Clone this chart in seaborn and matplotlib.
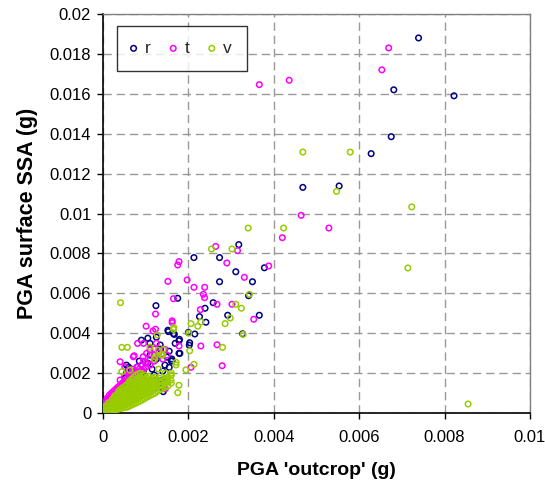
import matplotlib
matplotlib.use("Agg")
import matplotlib.pyplot as plt
import pandas as pd
import seaborn as sns

# ---------------- data ----------------
series_names = ["r", "t", "v"]
series_colors = ["#000080", "#FF00FF", "#99CC00"]

r_points = [
    (0.00739, 0.0188), (0.00681, 0.0162), (0.00822, 0.0159), (0.00675, 0.01385),
    (0.00628, 0.0130), (0.00468, 0.01131), (0.00553, 0.01138),
    (0.00318, 0.00844), (0.00213, 0.00779), (0.00273, 0.00779), (0.00378, 0.00728),
    (0.00311, 0.00708), (0.00273, 0.00658), (0.00350, 0.00658), (0.00341, 0.00588),
    (0.00175, 0.00575), (0.00258, 0.00553), (0.00124, 0.00538), (0.00239, 0.00525),
    (0.00366, 0.00490), (0.00292, 0.00490), (0.00226, 0.00483), (0.00241, 0.00455),
    (0.00152, 0.00415), (0.00165, 0.00398), (0.00200, 0.00404), (0.00215, 0.00396),
    (0.00327, 0.00397), (0.00178, 0.00362), (0.00169, 0.00349), (0.00203, 0.00352),
    (0.00178, 0.00299), (0.00110, 0.00349), (0.00134, 0.00341), (0.00162, 0.00262),
    (0.00155, 0.00229), (0.00144, 0.00122), (0.00137, 0.00159), (0.00085, 0.00082),
    (0.00153, 0.00408), (0.00167, 0.00394), (0.00179, 0.00369), (0.00202, 0.00340),
    (0.00135, 0.00320), (0.00161, 0.00271), (0.00180, 0.00299), (0.00118, 0.00157),
    (0.00141, 0.00165), (0.00141, 0.00107), (0.00090, 0.00365), (0.00105, 0.00375),
    (0.00125, 0.00380),
]
r_cluster = [
    (0.00005, 0.0001), (0.0001, 0.00022), (0.00015, 0.0003), (0.0002, 0.0004),
    (0.0003, 0.0006), (0.0004, 0.0008), (0.00052, 0.00175), (0.00055, 0.0020),
    (0.00055, 0.0024), (0.0006, 0.0023), (0.00075, 0.0020), (0.0008, 0.0023),
    (0.00085, 0.0026), (0.0009, 0.0018), (0.00094, 0.00207), (0.001, 0.0016),
    (0.00105, 0.0025), (0.0011, 0.0029), (0.00115, 0.0022), (0.0012, 0.0019),
    (0.00125, 0.0027), (0.0013, 0.0013), (0.00135, 0.0016), (0.0014, 0.0021),
    (0.00145, 0.0024), (0.0015, 0.0028), (0.00155, 0.0031), (0.0016, 0.0026),
    (0.00085, 0.0008), (0.0006, 0.0012),
]

t_points = [
    (0.00669, 0.0183), (0.00653, 0.0172), (0.00366, 0.01646), (0.00436, 0.01668),
    (0.00464, 0.00991), (0.00529, 0.00927), (0.00420, 0.00879), (0.00264, 0.00835),
    (0.00315, 0.00814), (0.00290, 0.00752), (0.00178, 0.00759), (0.00175, 0.00742),
    (0.00388, 0.00737), (0.00331, 0.00680), (0.00197, 0.00667), (0.00152, 0.00660),
    (0.00213, 0.00630), (0.00238, 0.00630), (0.00235, 0.00595), (0.00238, 0.00578),
    (0.00165, 0.00573), (0.00267, 0.00545), (0.00302, 0.00545), (0.00228, 0.00518),
    (0.00123, 0.00496), (0.00353, 0.00470), (0.00101, 0.00435), (0.00123, 0.00420),
    (0.00117, 0.00411), (0.00162, 0.00453), (0.00162, 0.00462), (0.00178, 0.00336),
    (0.00229, 0.00336), (0.00267, 0.00342), (0.00279, 0.00237), (0.00206, 0.00229),
    (0.00081, 0.00349), (0.00095, 0.00349), (0.00073, 0.00287), (0.00146, 0.00122),
    (0.00040, 0.00257), (0.00051, 0.00232), (0.00145, 0.00319), (0.00110, 0.00316),
    (0.00102, 0.00299), (0.00094, 0.00282), (0.00071, 0.00282), (0.00120, 0.00320),
    (0.00130, 0.00300), (0.00140, 0.00270), (0.00150, 0.00290), (0.00125, 0.00350),
]
t_cluster = [
    (0.00002, 0.00035), (0.00002, 0.00045), (0.00006, 0.0004), (0.00006, 0.00055),
    (0.0001, 0.0005), (0.0001, 0.00065), (0.0001, 0.00075),
    (0.00015, 0.0006), (0.00015, 0.00075), (0.00015, 0.0009),
    (0.0002, 0.0007), (0.0002, 0.00085), (0.0002, 0.001),
    (0.00025, 0.0008), (0.00025, 0.00095), (0.00025, 0.0011),
    (0.0003, 0.0009), (0.0003, 0.00105), (0.0003, 0.0012),
    (0.00035, 0.001), (0.00035, 0.00115), (0.00035, 0.0013),
    (0.0004, 0.00112), (0.0004, 0.00127), (0.0004, 0.0014), (0.0004, 0.00165),
    (0.00045, 0.00122), (0.00045, 0.00137), (0.00045, 0.0015),
    (0.0005, 0.0013), (0.0005, 0.00147), (0.0005, 0.0016), (0.0005, 0.0018),
    (0.00055, 0.0014), (0.00055, 0.00157), (0.00055, 0.0017),
    (0.0006, 0.0015), (0.0006, 0.00167), (0.0006, 0.0019), (0.0006, 0.0021),
    (0.00065, 0.0016), (0.00065, 0.00177), (0.00065, 0.0019),
    (0.0007, 0.0017), (0.0007, 0.00187), (0.0007, 0.002), (0.0007, 0.0022),
    (0.00075, 0.0018), (0.00075, 0.00197), (0.00075, 0.0021),
    (0.0008, 0.0019), (0.0008, 0.00205), (0.0008, 0.0023),
    (0.00085, 0.0020), (0.00085, 0.0022), (0.0009, 0.0021), (0.0009, 0.0024),
    (0.00095, 0.0022), (0.00095, 0.0026), (0.001, 0.0023), (0.001, 0.0025),
    (0.0011, 0.0024), (0.0011, 0.0027), (0.0012, 0.0026), (0.0012, 0.0029),
]

v_points = [
    (0.00468, 0.01308), (0.00579, 0.01308), (0.00547, 0.01111), (0.00723, 0.01033),
    (0.00714, 0.00727), (0.00855, 0.00045), (0.00340, 0.00927), (0.00423, 0.00927),
    (0.00254, 0.00822), (0.00302, 0.00822), (0.00343, 0.00595), (0.00041, 0.00553),
    (0.00311, 0.00545), (0.00324, 0.00525), (0.00298, 0.00476), (0.00229, 0.00456),
    (0.00286, 0.00448), (0.00222, 0.00435), (0.00206, 0.00448), (0.00166, 0.00428),
    (0.00127, 0.00391), (0.00201, 0.00400), (0.00328, 0.00394), (0.00280, 0.00329),
    (0.00203, 0.00312), (0.00213, 0.00244), (0.00194, 0.00216), (0.00044, 0.00329),
    (0.00057, 0.00329), (0.00159, 0.00165), (0.00178, 0.00139), (0.00175, 0.00102),
    (0.00171, 0.00254), (0.00171, 0.00241), (0.00044, 0.00207), (0.00063, 0.00215),
    (0.00165, 0.00419), (0.00129, 0.00315), (0.00141, 0.00319), (0.00137, 0.00291),
    (0.00122, 0.00282), (0.00150, 0.00170), (0.00160, 0.00190), (0.00145, 0.00200),
    (0.00130, 0.00220), (0.00120, 0.00270), (0.00140, 0.00290), (0.00110, 0.00330),
]
v_cluster = [
    (0.00002, 0.00003), (0.00002, 0.00015), (0.00002, 0.0003),
    (0.00007, 0.00005), (0.00007, 0.0002), (0.00007, 0.00035),
    (0.00012, 0.00008), (0.00012, 0.00022), (0.00012, 0.00036), (0.00012, 0.0005),
    (0.00017, 0.0001), (0.00017, 0.00025), (0.00017, 0.0004), (0.00017, 0.00055),
    (0.00022, 0.00012), (0.00022, 0.00027), (0.00022, 0.00042), (0.00022, 0.00057), (0.00022, 0.0007),
    (0.00027, 0.00015), (0.00027, 0.0003), (0.00027, 0.00045), (0.00027, 0.0006), (0.00027, 0.00075), (0.00027, 0.00085),
    (0.00032, 0.00018), (0.00032, 0.00033), (0.00032, 0.00048), (0.00032, 0.00063), (0.00032, 0.00078), (0.00032, 0.00093),
    (0.00037, 0.0002), (0.00037, 0.00036), (0.00037, 0.00052), (0.00037, 0.00068), (0.00037, 0.00084), (0.00037, 0.001), (0.00037, 0.0011),
    (0.00042, 0.00023), (0.00042, 0.0004), (0.00042, 0.00056), (0.00042, 0.00072), (0.00042, 0.00088), (0.00042, 0.00105), (0.00042, 0.0012),
    (0.00047, 0.00026), (0.00047, 0.00042), (0.00047, 0.0006), (0.00047, 0.00077), (0.00047, 0.00094), (0.00047, 0.0011), (0.00047, 0.00128),
    (0.00052, 0.00028), (0.00052, 0.00045), (0.00052, 0.00063), (0.00052, 0.00081), (0.00052, 0.001), (0.00052, 0.00118), (0.00052, 0.00135),
    (0.00057, 0.0003), (0.00057, 0.00048), (0.00057, 0.00067), (0.00057, 0.00086), (0.00057, 0.00105), (0.00057, 0.00124), (0.00057, 0.00145),
    (0.00062, 0.00035), (0.00062, 0.00053), (0.00062, 0.00072), (0.00062, 0.00091), (0.00062, 0.0011), (0.00062, 0.0013), (0.00062, 0.0015), (0.00062, 0.0016),
    (0.00067, 0.0004), (0.00067, 0.00058), (0.00067, 0.00077), (0.00067, 0.00096), (0.00067, 0.00116), (0.00067, 0.00136), (0.00067, 0.00155), (0.00067, 0.0017),
    (0.00072, 0.00045), (0.00072, 0.00063), (0.00072, 0.00082), (0.00072, 0.00102), (0.00072, 0.00122), (0.00072, 0.00142), (0.00072, 0.0016), (0.00072, 0.0018),
    (0.00077, 0.0005), (0.00077, 0.00068), (0.00077, 0.00087), (0.00077, 0.00107), (0.00077, 0.00127), (0.00077, 0.00147), (0.00077, 0.00167), (0.00077, 0.0019),
    (0.00082, 0.00055), (0.00082, 0.00073), (0.00082, 0.00093), (0.00082, 0.00113), (0.00082, 0.00133), (0.00082, 0.00153), (0.00082, 0.00175), (0.00082, 0.00195),
    (0.00087, 0.0006), (0.00087, 0.0008), (0.00087, 0.001), (0.00087, 0.0012), (0.00087, 0.0014), (0.00087, 0.0016), (0.00087, 0.0018), (0.00087, 0.002),
    (0.00092, 0.00066), (0.00092, 0.00086), (0.00092, 0.00106), (0.00092, 0.00126), (0.00092, 0.00146), (0.00092, 0.00166), (0.00092, 0.00186),
    (0.00097, 0.00072), (0.00097, 0.00092), (0.00097, 0.00112), (0.00097, 0.00132), (0.00097, 0.00152), (0.00097, 0.00172), (0.00097, 0.0019),
    (0.00102, 0.00078), (0.00102, 0.00098), (0.00102, 0.00118), (0.00102, 0.00138), (0.00102, 0.00158), (0.00102, 0.00178),
    (0.00107, 0.00084), (0.00107, 0.00104), (0.00107, 0.00124), (0.00107, 0.00144), (0.00107, 0.00164), (0.00107, 0.00184),
    (0.00112, 0.0009), (0.00112, 0.0011), (0.00112, 0.0013), (0.00112, 0.0015), (0.00112, 0.0017),
    (0.00117, 0.00095), (0.00117, 0.00115), (0.00117, 0.00135), (0.00117, 0.00155), (0.00117, 0.00175),
    (0.00122, 0.001), (0.00122, 0.0012), (0.00122, 0.0014), (0.00122, 0.0016), (0.00122, 0.0018),
    (0.00127, 0.00108), (0.00127, 0.00128), (0.00127, 0.00148), (0.00127, 0.00168),
    (0.00132, 0.00115), (0.00132, 0.00135), (0.00132, 0.00155), (0.00132, 0.00175),
    (0.00138, 0.0012), (0.00138, 0.0014), (0.00138, 0.0016),
    (0.00145, 0.00128), (0.00145, 0.00148), (0.00145, 0.00168),
    (0.00152, 0.00135), (0.00152, 0.00155), (0.00152, 0.0018),
    (0.0016, 0.0015), (0.0016, 0.002),
]

x_ticks = [0, 0.002, 0.004, 0.006, 0.008, 0.01]
x_tick_labels = ["0", "0.002", "0.004", "0.006", "0.008", "0.01"]
y_ticks = [0, 0.002, 0.004, 0.006, 0.008, 0.01, 0.012, 0.014, 0.016, 0.018, 0.02]
y_tick_labels = ["0", "0.002", "0.004", "0.006", "0.008", "0.01", "0.012",
                 "0.014", "0.016", "0.018", "0.02"]
x_label = "PGA 'outcrop' (g)"
y_label = "PGA surface SSA (g)"

# ---------------- plot ----------------
sns.set_theme(style="white")
plt.rcParams["font.family"] = ["Liberation Sans", "DejaVu Sans"]

W, H = 545, 491
fig = plt.figure(figsize=(W / 100, H / 100), dpi=100)
ax = fig.add_axes([103 / W, (H - 413) / H, 427 / W, 399 / H])

series_data = {
    "r": r_cluster + r_points,
    "t": t_cluster + t_points,
    "v": v_cluster + v_points,
}
for name, color in zip(series_names, series_colors):
    df = pd.DataFrame(series_data[name], columns=["x", "y"])
    sns.scatterplot(data=df, x="x", y="y", ax=ax, marker="o", s=16,
                    facecolor="none", edgecolor=color, color=color,
                    linewidth=1.1, label=name, legend=False, zorder=3)

ax.set_xlim(0, 0.01)
ax.set_ylim(0, 0.02)
ax.set_xticks(x_ticks)
ax.set_xticklabels(x_tick_labels)
ax.set_yticks(y_ticks)
ax.set_yticklabels(y_tick_labels)

ax.grid(True, color="#999999", linestyle=(0, (6, 3.5)), linewidth=1.0)
ax.set_axisbelow(True)

for side in ["top", "right"]:
    ax.spines[side].set_color("#808080")
    ax.spines[side].set_linewidth(1.0)
for side in ["left", "bottom"]:
    ax.spines[side].set_color("black")
    ax.spines[side].set_linewidth(1.2)

ax.tick_params(axis="both", which="major", bottom=True, left=True,
               direction="out", length=4.5, width=1, color="black",
               labelsize=12, labelcolor="black")
ax.tick_params(axis="x", pad=8)
ax.tick_params(axis="y", pad=4)

ax.set_xlabel(x_label, fontsize=14, fontweight="bold", color="black", labelpad=12)
ax.set_ylabel(y_label, fontsize=15.5, fontweight="bold", color="black", labelpad=8)

leg = ax.legend(loc="upper left", bbox_to_anchor=(0.033, 0.970), ncol=3,
                frameon=True, fancybox=False, edgecolor="black", fontsize=12.5,
                borderpad=0.85, handletextpad=0.55, columnspacing=1.2,
                markerscale=1.0, handlelength=0.2, borderaxespad=0)
leg.get_frame().set_linewidth(1.0)
leg.get_frame().set_facecolor("white")

fig.savefig("out.png", dpi=100)
